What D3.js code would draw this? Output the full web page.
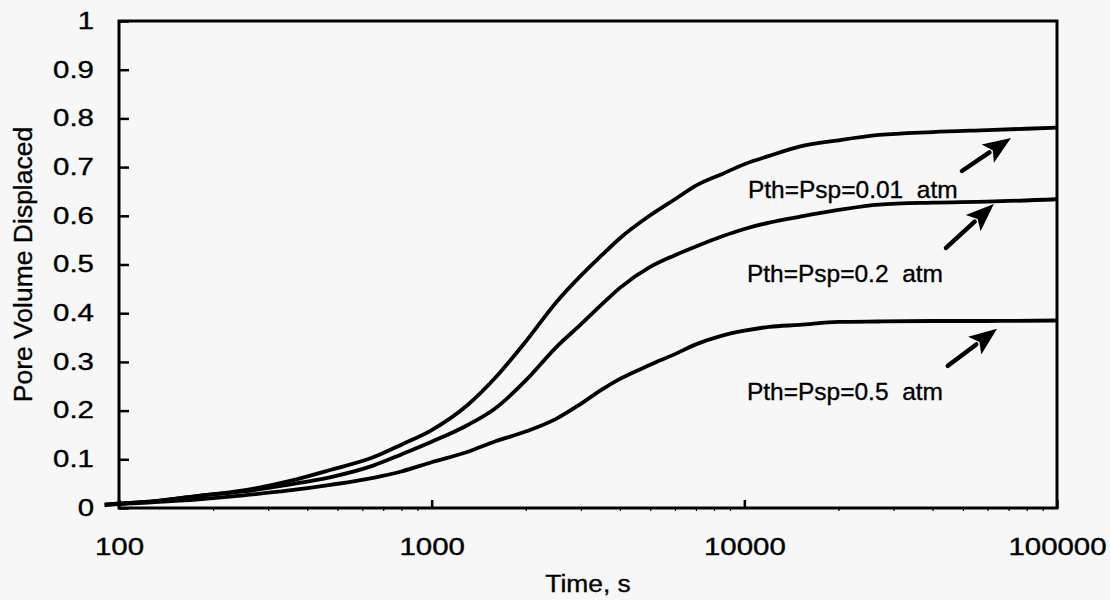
<!DOCTYPE html>
<html>
<head>
<meta charset="utf-8">
<script src="https://cdn.jsdelivr.net/npm/d3@7"></script>
<style>
  html, body { margin: 0; padding: 0; background: #f7f7f7; }
  svg { display: block; }
  text { font-family: "Liberation Sans", Arial, Helvetica, sans-serif; fill: #000; stroke: #000; stroke-width: 0.35px; }
</style>
</head>
<body>
<svg id="chart" width="1110" height="600"></svg>
<script>
// Elapsed time (s) shared by all three runs
const times = [90, 100, 130, 180, 250, 350, 480, 650, 800, 1000, 1300, 1600, 2000, 2500,
  3000, 3500, 4000, 5000, 6000, 7000, 8500, 10000, 12000, 15000, 20000, 27000, 40000, 60000, 100000];

// Pore volume displaced for each threshold / spontaneous pressure
const pv001 = [0.007, 0.009, 0.014, 0.025, 0.036, 0.055, 0.079, 0.104, 0.130, 0.160, 0.211, 0.268, 0.342, 0.422,
  0.477, 0.519, 0.554, 0.601, 0.634, 0.662, 0.686, 0.706, 0.723, 0.742, 0.755, 0.766, 0.772, 0.776, 0.781];
const pv02 = [0.007, 0.009, 0.014, 0.025, 0.034, 0.048, 0.064, 0.087, 0.110, 0.136, 0.170, 0.205, 0.262, 0.330,
  0.377, 0.418, 0.452, 0.495, 0.519, 0.537, 0.558, 0.573, 0.586, 0.598, 0.612, 0.623, 0.627, 0.629, 0.634];
const pv05 = [0.006, 0.008, 0.012, 0.018, 0.026, 0.036, 0.048, 0.062, 0.075, 0.094, 0.115, 0.137, 0.157, 0.183,
  0.214, 0.243, 0.265, 0.294, 0.316, 0.336, 0.354, 0.364, 0.372, 0.376, 0.382, 0.383, 0.384, 0.384, 0.385];

// Curve annotations: text, anchor (time, value), arrow tail and tip (time, value)
const labelTexts = ["Pth=Psp=0.01  atm", "Pth=Psp=0.2  atm", "Pth=Psp=0.5  atm"];
const labelTimes = [10270, 10190, 10190];
const labelValues = [0.637, 0.464, 0.221];
const arrowTailTimes = [49650, 44150, 44770];
const arrowTailValues = [0.692, 0.534, 0.292];
const arrowTipTimes = [71250, 62800, 64300];
const arrowTipValues = [0.760, 0.624, 0.368];

// Axis ticks
const xTicks = [100, 1000, 10000, 100000];
const xTickLabels = ["100", "1000", "10000", "100000"];
const xMinorTicks = [200, 300, 400, 500, 600, 700, 800, 900, 2000, 3000, 4000, 5000, 6000, 7000, 8000, 9000,
  20000, 30000, 40000, 50000, 60000, 70000, 80000, 90000];
const yTicks = [0, 0.1, 0.2, 0.3, 0.4, 0.5, 0.6, 0.7, 0.8, 0.9, 1];
const yTickLabels = ["0", "0.1", "0.2", "0.3", "0.4", "0.5", "0.6", "0.7", "0.8", "0.9", "1"];

const svg = d3.select("#chart");
const plot = { left: 119, right: 1057, top: 21, bottom: 508 };

const x = d3.scaleLog().domain([100, 100000]).range([plot.left, plot.right]);
const y = d3.scaleLinear().domain([0, 1]).range([plot.bottom, plot.top]);

// Curves
const line = d3.line()
  .x(d => x(d[0]))
  .y(d => y(d[1]))
  .curve(d3.curveMonotoneX);

[pv001, pv02, pv05].forEach(vals => {
  svg.append("path")
    .datum(times.map((t, i) => [t, vals[i]]))
    .attr("d", line)
    .attr("fill", "none")
    .attr("stroke", "#000")
    .attr("stroke-width", 3.8)
    .attr("stroke-linejoin", "round");
});

// Y axis (ticks point inward)
const gy = svg.append("g")
  .attr("transform", `translate(${plot.left},0)`)
  .call(d3.axisLeft(y).tickValues(yTicks).tickSize(-10).tickPadding(0)
    .tickFormat((d, i) => yTickLabels[i]));
gy.select(".domain").remove();
gy.selectAll(".tick line").attr("stroke", "#000").attr("stroke-width", 2.5);
gy.selectAll(".tick text")
  .attr("x", null)
  .attr("transform", "translate(-25,0) scale(1.28,1)")
  .style("font-size", "23px");

// X axis minor ticks
const gxm = svg.append("g")
  .attr("transform", `translate(0,${plot.bottom})`)
  .call(d3.axisBottom(x).tickValues(xMinorTicks).tickSize(3).tickFormat(""));
gxm.select(".domain").remove();
gxm.selectAll(".tick line").attr("stroke", "#000").attr("stroke-width", 1.2);

// X axis major ticks (inward)
const gx = svg.append("g")
  .attr("transform", `translate(0,${plot.bottom})`)
  .call(d3.axisBottom(x).tickValues(xTicks).tickSize(-8).tickPadding(31)
    .tickFormat((d, i) => xTickLabels[i]));
gx.select(".domain").remove();
gx.selectAll(".tick line").attr("stroke", "#000").attr("stroke-width", 2.5);
gx.selectAll(".tick text")
  .attr("transform", "scale(1.28,1)")
  .style("font-size", "23px");

// Plot frame
svg.append("rect")
  .attr("x", plot.left).attr("y", plot.top)
  .attr("width", plot.right - plot.left).attr("height", plot.bottom - plot.top)
  .attr("fill", "none").attr("stroke", "#000").attr("stroke-width", 3);

// Axis titles
svg.append("text")
  .attr("transform", `translate(32,${(plot.top + plot.bottom) / 2}) rotate(-90)`)
  .attr("text-anchor", "middle")
  .style("font-size", "26.5px")
  .text("Pore Volume Displaced");

svg.append("text")
  .attr("transform", `translate(${(plot.left + plot.right) / 2},592) scale(1.1,1)`)
  .attr("text-anchor", "middle")
  .style("font-size", "24px")
  .text("Time, s");

// Curve labels
svg.append("g").selectAll("text")
  .data(labelTexts)
  .join("text")
  .attr("x", (d, i) => x(labelTimes[i]))
  .attr("y", (d, i) => y(labelValues[i]))
  .style("font-size", "24.5px")
  .style("white-space", "pre")
  .attr("xml:space", "preserve")
  .text(d => d);

// Arrows pointing at the plateau of each curve
const headLen = 28, headHalf = 11;
labelTexts.forEach((_, i) => {
  const x0 = x(arrowTailTimes[i]), y0 = y(arrowTailValues[i]);
  const x1 = x(arrowTipTimes[i]), y1 = y(arrowTipValues[i]);
  const dx = x1 - x0, dy = y1 - y0, len = Math.hypot(dx, dy);
  const ux = dx / len, uy = dy / len;
  const bx = x1 - ux * headLen, by = y1 - uy * headLen;
  svg.append("line")
    .attr("x1", x0).attr("y1", y0)
    .attr("x2", bx + ux * 2).attr("y2", by + uy * 2)
    .attr("stroke", "#000").attr("stroke-width", 4.5).attr("stroke-linecap", "round");
  svg.append("polygon")
    .attr("points", [
      [x1, y1],
      [bx - uy * headHalf, by + ux * headHalf],
      [bx + ux * 6, by + uy * 6],
      [bx + uy * headHalf, by - ux * headHalf]
    ].map(p => p.join(",")).join(" "))
    .attr("fill", "#000");
});
</script>
</body>
</html>
